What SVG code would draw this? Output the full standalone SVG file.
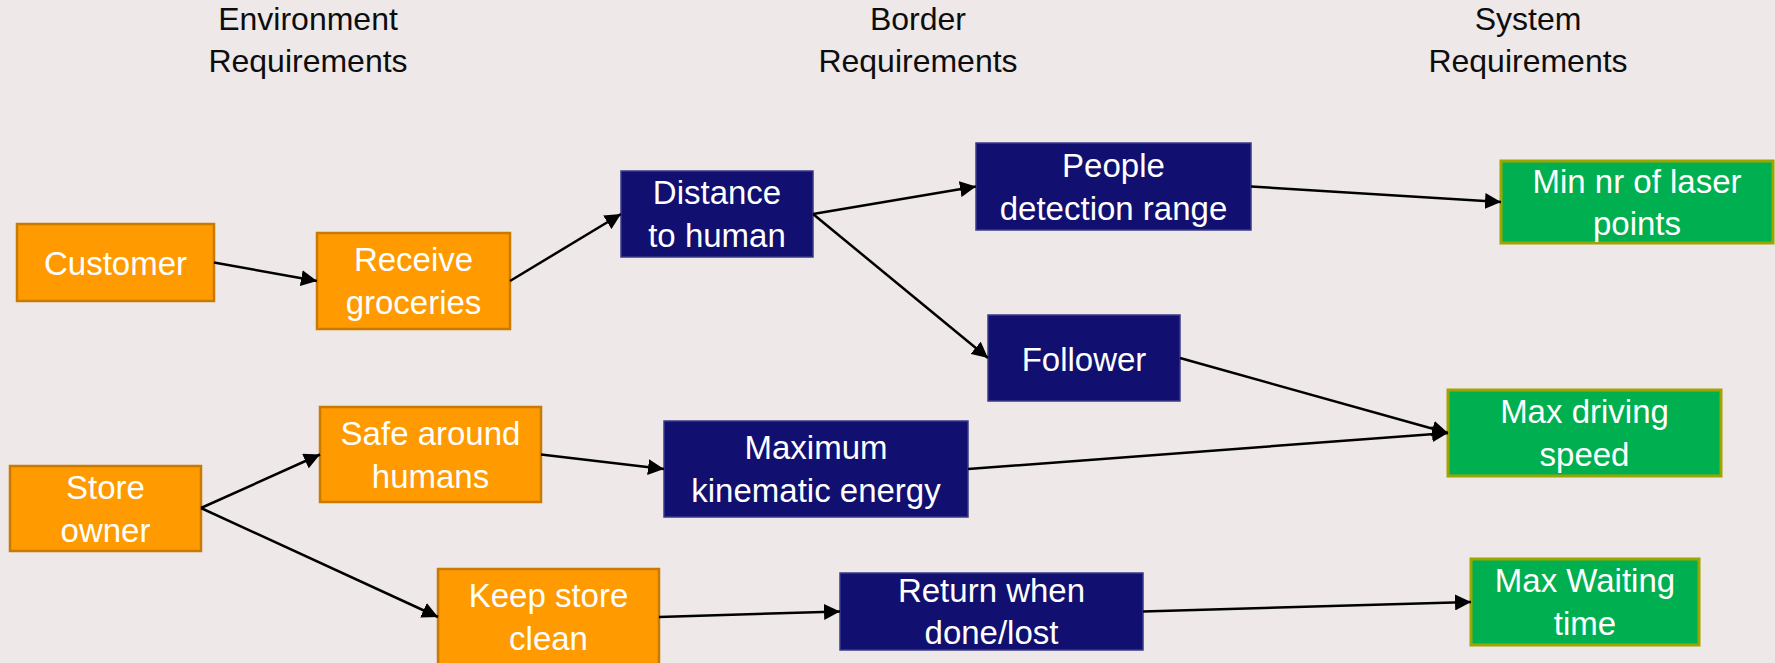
<svg xmlns="http://www.w3.org/2000/svg" width="1775" height="663" viewBox="0 0 1775 663">
  <style>
    .title { font-family: "Liberation Sans", Arial, sans-serif; font-size: 32px; fill: #0d0d0d; text-anchor: middle; }
    .label { font-family: "Liberation Sans", Arial, sans-serif; font-size: 33px; fill: #ffffff; text-anchor: middle; }
    .env { fill: #ff9a00; stroke: #c97a00; stroke-width: 2.5; }
    .bdr { fill: #111070; stroke: #3a3a88; stroke-width: 1.5; }
    .sys { fill: #00af50; stroke: #9da600; stroke-width: 3; }
    .link { fill: none; stroke: #000000; stroke-width: 2.5; marker-end: url(#arrow); }
  </style>
  <defs>
    <marker id="arrow" viewBox="0 0 16 16" refX="16" refY="8" markerWidth="16" markerHeight="16" markerUnits="userSpaceOnUse" orient="auto">
      <path d="M0,0 L16,8 L0,16 z" fill="#000000"/>
    </marker>
  </defs>

  <rect x="0" y="0" width="1775" height="663" fill="#eee8e8"/>

  <!-- column headings -->
  <g id="headings">
    <text class="title" x="308" y="30">Environment</text>
    <text class="title" x="308" y="72">Requirements</text>
    <text class="title" x="918" y="30">Border</text>
    <text class="title" x="918" y="72">Requirements</text>
    <text class="title" x="1528" y="30">System</text>
    <text class="title" x="1528" y="72">Requirements</text>
  </g>

  <!-- environment requirements -->
  <g id="customer">
    <rect class="env" x="17" y="224" width="197" height="77"/>
    <text class="label" x="115.5" y="275">Customer</text>
  </g>
  <g id="receive-groceries">
    <rect class="env" x="317" y="233" width="193" height="96"/>
    <text class="label" x="413.5" y="271">Receive</text>
    <text class="label" x="413.5" y="314">groceries</text>
  </g>
  <g id="store-owner">
    <rect class="env" x="10" y="466" width="191" height="85"/>
    <text class="label" x="105.5" y="498.5">Store</text>
    <text class="label" x="105.5" y="541.5">owner</text>
  </g>
  <g id="safe-around-humans">
    <rect class="env" x="320" y="407" width="221" height="95"/>
    <text class="label" x="430.5" y="444.5">Safe around</text>
    <text class="label" x="430.5" y="487.5">humans</text>
  </g>
  <g id="keep-store-clean">
    <rect class="env" x="438" y="569" width="221" height="96"/>
    <text class="label" x="548.5" y="607">Keep store</text>
    <text class="label" x="548.5" y="650">clean</text>
  </g>

  <!-- border requirements -->
  <g id="distance-to-human">
    <rect class="bdr" x="621" y="171" width="192" height="86"/>
    <text class="label" x="717" y="204">Distance</text>
    <text class="label" x="717" y="247">to human</text>
  </g>
  <g id="people-detection-range">
    <rect class="bdr" x="976" y="143" width="275" height="87"/>
    <text class="label" x="1113.5" y="176.5">People</text>
    <text class="label" x="1113.5" y="219.5">detection range</text>
  </g>
  <g id="follower">
    <rect class="bdr" x="988" y="315" width="192" height="86"/>
    <text class="label" x="1084" y="370.5">Follower</text>
  </g>
  <g id="maximum-kinematic-energy">
    <rect class="bdr" x="664" y="421" width="304" height="96"/>
    <text class="label" x="816" y="459">Maximum</text>
    <text class="label" x="816" y="502">kinematic energy</text>
  </g>
  <g id="return-when-done-lost">
    <rect class="bdr" x="840" y="573" width="303" height="77"/>
    <text class="label" x="991.5" y="601.5">Return when</text>
    <text class="label" x="991.5" y="643.5">done/lost</text>
  </g>

  <!-- system requirements -->
  <g id="min-nr-of-laser-points">
    <rect class="sys" x="1501" y="161" width="272" height="82"/>
    <text class="label" x="1637" y="192.5">Min nr of laser</text>
    <text class="label" x="1637" y="235">points</text>
  </g>
  <g id="max-driving-speed">
    <rect class="sys" x="1448" y="390" width="273" height="86"/>
    <text class="label" x="1584.5" y="423">Max driving</text>
    <text class="label" x="1584.5" y="466">speed</text>
  </g>
  <g id="max-waiting-time">
    <rect class="sys" x="1471" y="559" width="228" height="86"/>
    <text class="label" x="1585" y="592">Max Waiting</text>
    <text class="label" x="1585" y="635">time</text>
  </g>

  <!-- connectors -->
  <g id="connectors">
    <line class="link" x1="214" y1="262.5" x2="317" y2="281"/>
    <line class="link" x1="510" y1="281" x2="621" y2="214"/>
    <line class="link" x1="813" y1="214" x2="976" y2="186.5"/>
    <line class="link" x1="813" y1="214" x2="988" y2="358"/>
    <line class="link" x1="1251" y1="186.5" x2="1501" y2="202"/>
    <line class="link" x1="1180" y1="358" x2="1448" y2="433"/>
    <line class="link" x1="201" y1="508" x2="320" y2="454.5"/>
    <line class="link" x1="201" y1="508" x2="438" y2="617"/>
    <line class="link" x1="541" y1="454.5" x2="664" y2="469"/>
    <line class="link" x1="968" y1="469" x2="1448" y2="433"/>
    <line class="link" x1="659" y1="617" x2="840" y2="611.5"/>
    <line class="link" x1="1143" y1="611.5" x2="1471" y2="602"/>
  </g>
</svg>
